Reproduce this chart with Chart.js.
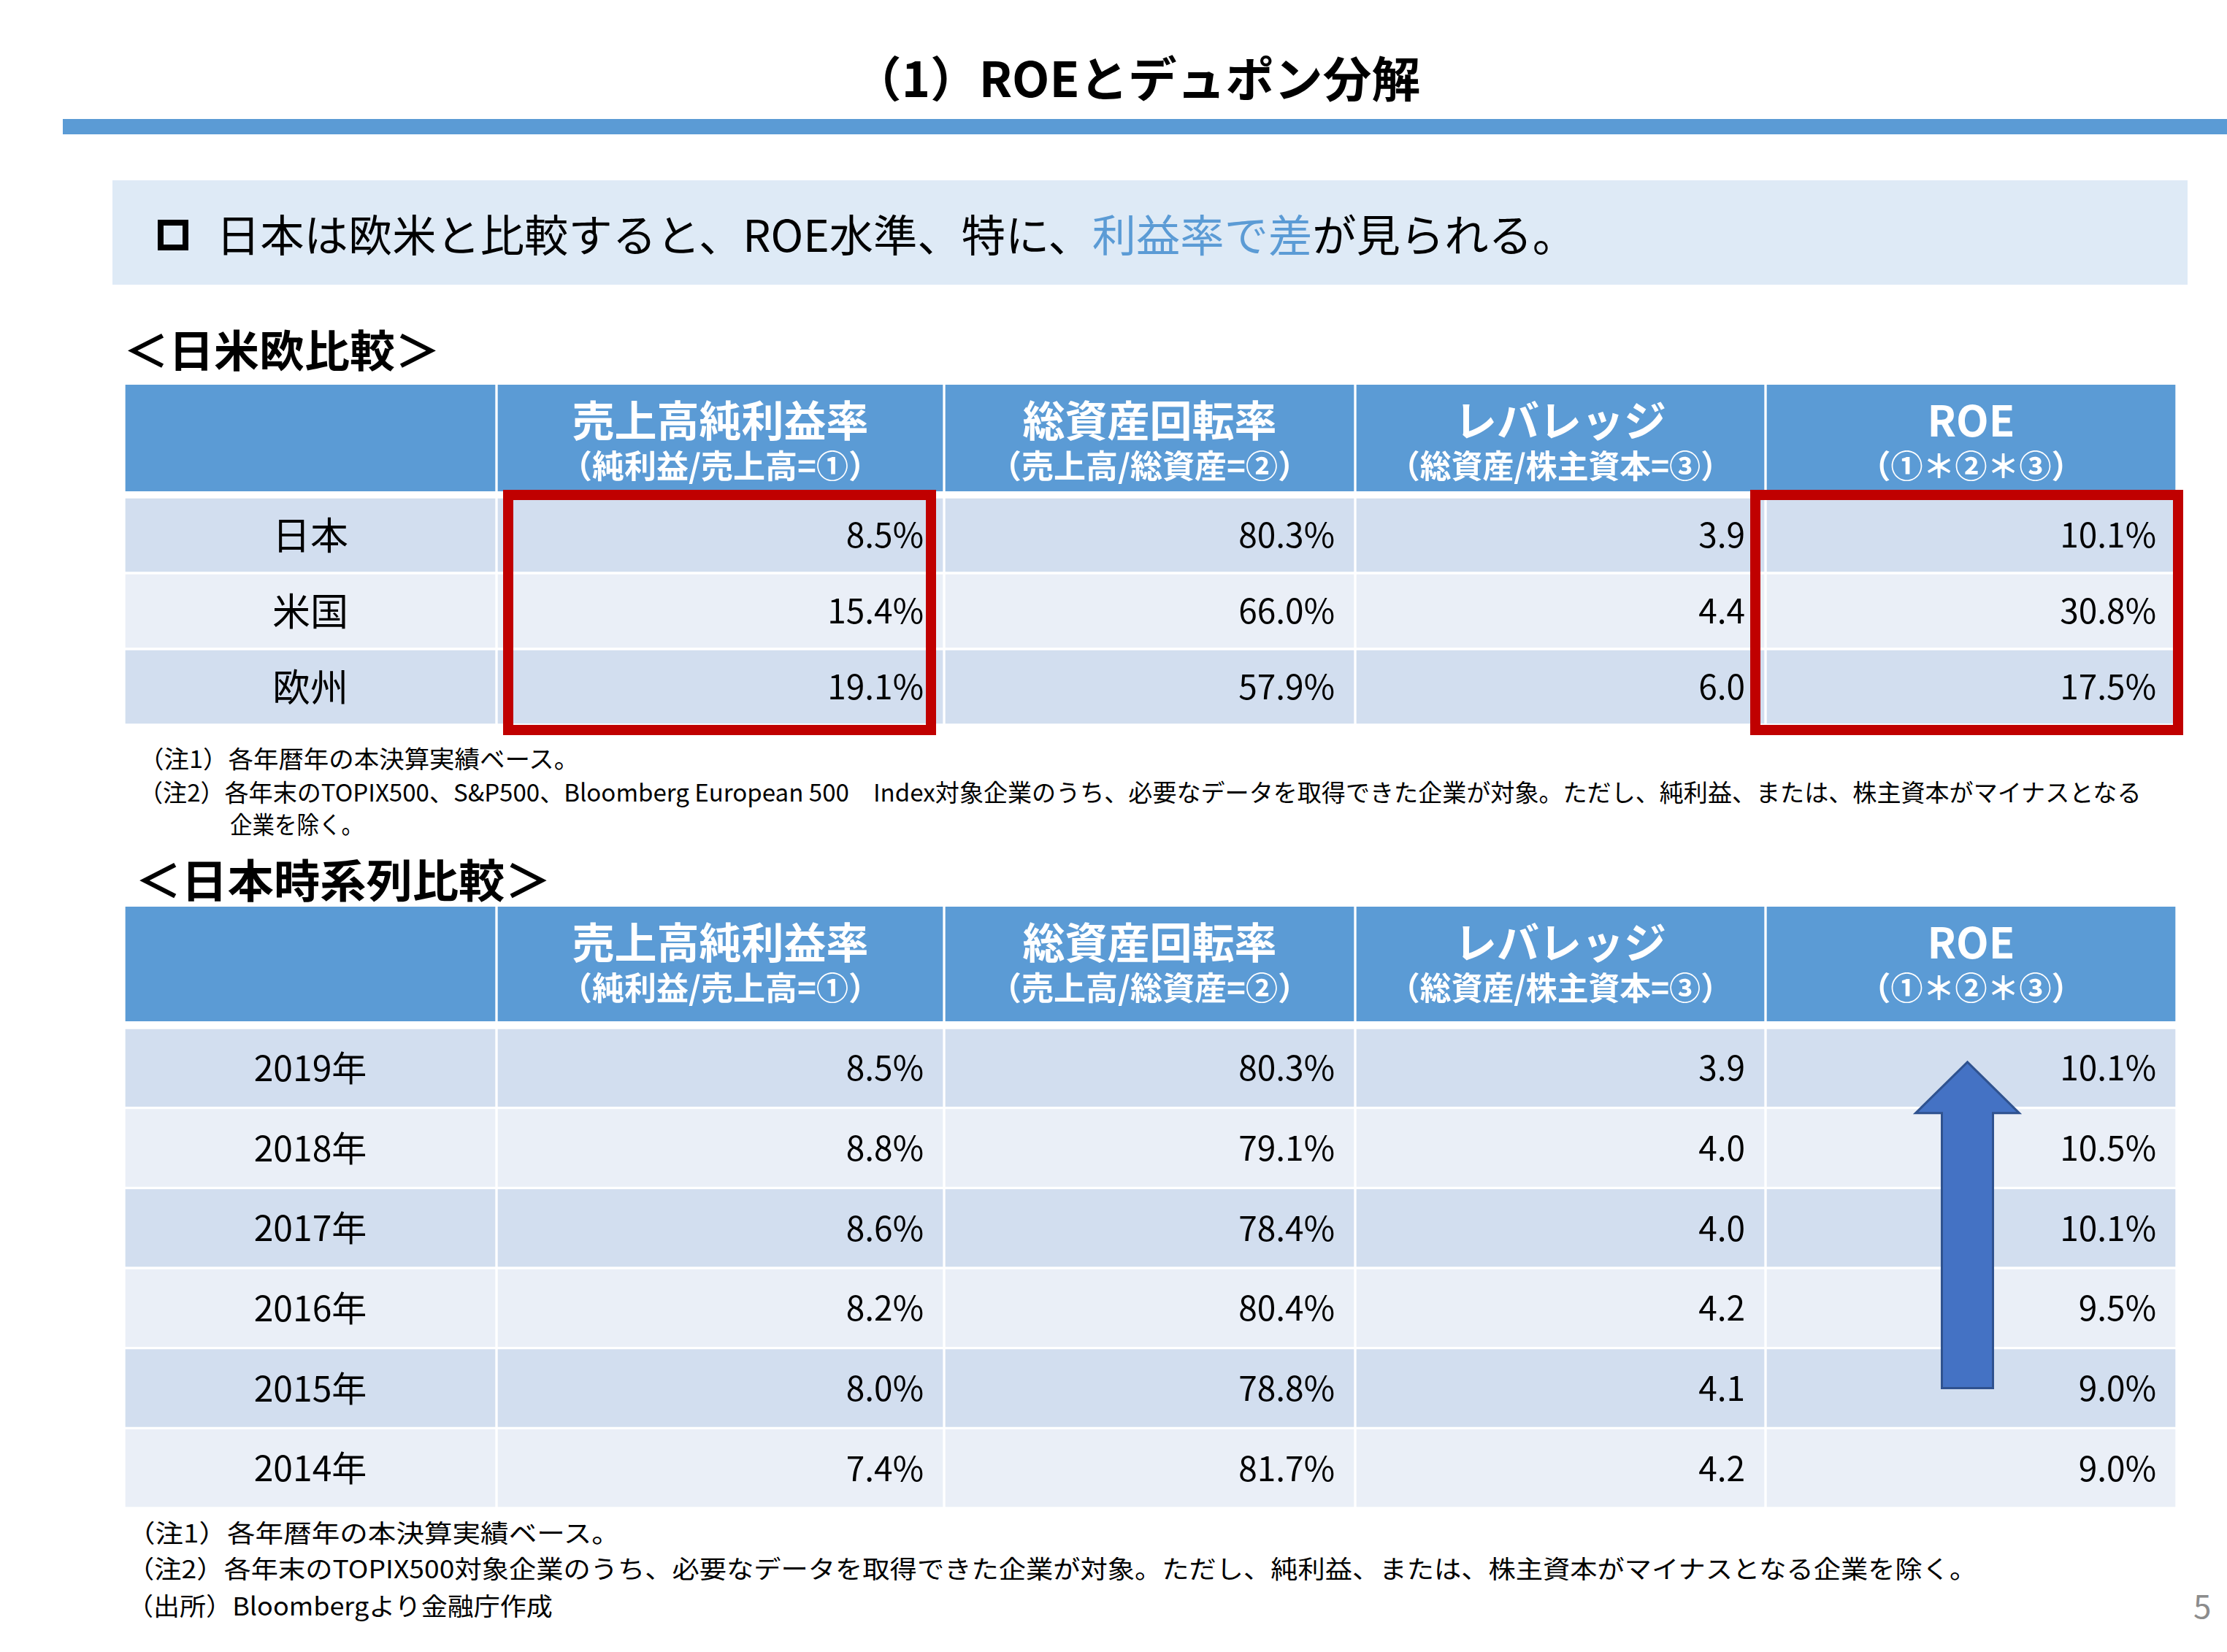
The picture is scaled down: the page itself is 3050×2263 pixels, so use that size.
<!DOCTYPE html>
<html lang="ja">
<head>
<meta charset="utf-8">
<title>（1）ROEとデュポン分解</title>
<script src="https://cdn.jsdelivr.net/npm/chart.js@4.4.1/dist/chart.umd.min.js"></script>
<style>
  body { margin: 0; background: #fff; }
  #page { position: relative; width: 3050px; height: 2263px; overflow: hidden;
          font-family: "Noto Sans CJK JP", sans-serif; color: #000; }
  .txt { position: absolute; white-space: nowrap; line-height: 1; transform-origin: left center; }
  .blk { position: absolute; }
  canvas { position: absolute; }
</style>
</head>
<body>
<div id="page">
  <div class="blk" style="left:86px;top:163px;width:2964px;height:21px;background:#5b9bd5"></div>
  <div class="blk" style="left:154px;top:247px;width:2842px;height:143px;background:#deeaf6"></div>
  <div class="blk" style="left:216px;top:301px;width:42px;height:42px;border:8px solid #000;box-sizing:border-box"></div>
  <canvas id="head1" width="2811" height="146" style="left:170px;top:527px"></canvas>
  <canvas id="body1" width="2845" height="344" style="left:158px;top:667px"></canvas>
  <canvas id="head2" width="2811" height="157" style="left:170px;top:1242px"></canvas>
  <canvas id="body2" width="2811" height="658" style="left:170px;top:1408px"></canvas>
</div>
<script>
// 見出し
const headTitles = ['', '売上高純利益率', '総資産回転率', 'レバレッジ', 'ROE'];
const headFormulas = ['', '（純利益/売上高=①）', '（売上高/総資産=②）', '（総資産/株主資本=③）', '（①＊②＊③）'];

// 日米欧比較
const regions = ['日本', '米国', '欧州'];
const regionMargin = [8.5, 15.4, 19.1];
const regionTurnover = [80.3, 66.0, 57.9];
const regionLeverage = [3.9, 4.4, 6.0];
const regionRoe = [10.1, 30.8, 17.5];

// 日本時系列比較
const years = ['2019年', '2018年', '2017年', '2016年', '2015年', '2014年'];
const jpMargin = [8.5, 8.8, 8.6, 8.2, 8.0, 7.4];
const jpTurnover = [80.3, 79.1, 78.4, 80.4, 78.8, 81.7];
const jpLeverage = [3.9, 4.0, 4.0, 4.2, 4.1, 4.2];
const jpRoe = [10.1, 10.5, 10.1, 9.5, 9.0, 9.0];

// layout
const colWidths = [510, 613, 563, 562, 563];
const colEdges = colWidths.reduce((a, w) => { a.push(a[a.length - 1] + w); return a; }, [0]);
const FONT = '"Noto Sans CJK JP", sans-serif';
const HEAD_BLUE = '#5b9bd5';
const BAND1 = '#d2deef';
const BAND2 = '#eaeff7';

const pct = v => v.toFixed(1) + '%';
const num = v => v.toFixed(1);

function baseOptions(padding) {
  return {
    indexAxis: 'y',
    responsive: false,
    animation: false,
    events: [],
    layout: { padding: padding || 0 },
    scales: {
      x: { type: 'linear', min: 0, max: colEdges[colEdges.length - 1], display: false },
      y: { display: false }
    },
    plugins: { legend: { display: false }, tooltip: { enabled: false } }
  };
}

function headerChart(id) {
  const datasets = colWidths.map((w, c) => ({
    label: headTitles[c] || '区分',
    data: [[colEdges[c], colEdges[c + 1]]],
    backgroundColor: HEAD_BLUE,
    borderColor: '#ffffff',
    borderWidth: { left: 2, right: 2, top: 0, bottom: 0 },
    borderSkipped: false,
    grouped: false,
    barPercentage: 1,
    categoryPercentage: 1
  }));
  const headText = {
    id: 'headText',
    afterDatasetsDraw(chart) {
      const ctx = chart.ctx;
      ctx.save();
      ctx.fillStyle = '#ffffff';
      ctx.textAlign = 'center';
      ctx.textBaseline = 'middle';
      chart.data.datasets.forEach((ds, c) => {
        if (!headTitles[c]) return;
        const p = chart.getDatasetMeta(c).data[0].getProps(['x', 'y', 'base', 'height'], true);
        const cx = (p.x + p.base) / 2;
        const top = p.y - p.height / 2;
        ctx.font = 'bold 58px ' + FONT;
        ctx.fillText(headTitles[c], cx, top + 49, 420);
        ctx.font = 'bold 44px ' + FONT;
        ctx.fillText(headFormulas[c], cx, top + 111, 470);
      });
      ctx.restore();
    }
  };
  return new Chart(document.getElementById(id), {
    type: 'bar',
    data: { labels: ['見出し'], datasets },
    options: baseOptions(0),
    plugins: [headText]
  });
}

function bodyChart(id, rowLabels, cells, labelSize, padding, extra) {
  const datasets = colWidths.map((w, c) => ({
    label: headTitles[c] || '区分',
    data: rowLabels.map(() => [colEdges[c], colEdges[c + 1]]),
    backgroundColor: rowLabels.map((_, r) => (r % 2 ? BAND2 : BAND1)),
    borderColor: '#ffffff',
    borderWidth: 2,
    borderSkipped: false,
    grouped: false,
    barPercentage: 1,
    categoryPercentage: 1
  }));
  const texts = [rowLabels].concat(cells);
  const cellText = {
    id: 'cellText',
    afterDatasetsDraw(chart) {
      const ctx = chart.ctx;
      ctx.save();
      ctx.fillStyle = '#000000';
      ctx.textBaseline = 'middle';
      chart.data.datasets.forEach((ds, c) => {
        chart.getDatasetMeta(c).data.forEach((bar, r) => {
          const p = bar.getProps(['x', 'y', 'base'], true);
          if (c === 0) {
            ctx.font = labelSize + 'px ' + FONT;
            ctx.textAlign = 'center';
            ctx.fillText(texts[c][r], (p.x + p.base) / 2, p.y);
          } else {
            ctx.font = '46px ' + FONT;
            ctx.textAlign = 'right';
            ctx.fillText(texts[c][r], p.x - 28, p.y);
          }
        });
      });
      ctx.restore();
    }
  };
  return new Chart(document.getElementById(id), {
    type: 'bar',
    data: { labels: rowLabels, datasets },
    options: baseOptions(padding),
    plugins: [cellText].concat(extra || [])
  });
}

// 赤枠 (売上高純利益率, ROE)
const redBoxes = {
  id: 'redBoxes',
  afterDraw(chart) {
    const ctx = chart.ctx, xs = chart.scales.x, a = chart.chartArea;
    ctx.save();
    ctx.strokeStyle = '#c00000';
    ctx.lineWidth = 14;
    [[1, 16, -18], [4, -14, 2]].forEach(([c, l, r]) => {
      const x0 = xs.getPixelForValue(colEdges[c]) + l;
      const x1 = xs.getPixelForValue(colEdges[c + 1]) + r;
      ctx.strokeRect(x0, a.top - 3, x1 - x0, a.bottom - a.top + 10);
    });
    ctx.restore();
  }
};

// 上向き矢印 (2015年 → 2019年 ROE)
const upArrow = {
  id: 'upArrow',
  afterDatasetsDraw(chart) {
    const ctx = chart.ctx, xs = chart.scales.x, ys = chart.scales.y;
    const cx = xs.getPixelForValue((colEdges[4] + colEdges[5]) / 2) - 5;
    const yTop = ys.getPixelForValue(0) - 8;
    const yBot = ys.getPixelForValue(4);
    const head = 70, half = 71, shaft = 35;
    ctx.save();
    ctx.beginPath();
    ctx.moveTo(cx, yTop);
    ctx.lineTo(cx + half, yTop + head);
    ctx.lineTo(cx + shaft, yTop + head);
    ctx.lineTo(cx + shaft, yBot);
    ctx.lineTo(cx - shaft, yBot);
    ctx.lineTo(cx - shaft, yTop + head);
    ctx.lineTo(cx - half, yTop + head);
    ctx.closePath();
    ctx.fillStyle = '#4472c4';
    ctx.fill();
    ctx.strokeStyle = '#2f528f';
    ctx.lineWidth = 3;
    ctx.stroke();
    ctx.restore();
  }
};

headerChart('head1');
bodyChart('body1', regions,
  [regionMargin.map(pct), regionTurnover.map(pct), regionLeverage.map(num), regionRoe.map(pct)],
  52, { left: 12, right: 22, top: 14, bottom: 18 }, [redBoxes]);
headerChart('head2');
bodyChart('body2', years,
  [jpMargin.map(pct), jpTurnover.map(pct), jpLeverage.map(num), jpRoe.map(pct)],
  48, 0, [upArrow]);

// page texts (x = left of ink, lead = blank side bearing of a leading full-width bracket)
const pageTexts = [
  { html: '（1）ROEとデュポン分解', x: 1196, cy: 107, size: 66, bold: true, w: 749, lead: 28 },
  { html: '日本は欧米と比較すると、ROE水準、特に、<span style="color:#5b9bd5">利益率で差</span>が見られる。',
    x: 296, cy: 322, size: 60, w: 1863 },
  { html: '＜日米欧比較＞', x: 179, cy: 480, size: 60, bold: true, w: 424, lead: 10 },
  { html: '（注1）各年暦年の本決算実績ベース。', x: 204, cy: 1040, size: 33, w: 589, lead: 14 },
  { html: '（注2）各年末のTOPIX500、S&amp;P500、Bloomberg European 500　Index対象企業のうち、必要なデータを取得できた企業が対象。ただし、純利益、または、株主資本がマイナスとなる',
    x: 204, cy: 1086, size: 33, w: 2729, lead: 14 },
  { html: '企業を除く。', x: 315, cy: 1130, size: 33, w: 183 },
  { html: '＜日本時系列比較＞', x: 195, cy: 1206, size: 62, bold: true, w: 560, lead: 10 },
  { html: '（注1）各年暦年の本決算実績ベース。', x: 188, cy: 2101, size: 34, w: 661, lead: 14 },
  { html: '（注2）各年末のTOPIX500対象企業のうち、必要なデータを取得できた企業が対象。ただし、純利益、または、株主資本がマイナスとなる企業を除く。',
    x: 188, cy: 2150, size: 34, w: 2519, lead: 14 },
  { html: '（出所）Bloombergより金融庁作成', x: 188, cy: 2201, size: 34, w: 569, lead: 14 },
  { html: '5', x: 3004, cy: 2200, size: 44, color: '#8c8c8c' }
];

const page = document.getElementById('page');
pageTexts.forEach(t => {
  const lead = t.lead || 0;
  const el = document.createElement('div');
  el.className = 'txt';
  el.innerHTML = t.html;
  el.style.left = (t.x - lead) + 'px';
  el.style.top = (t.cy - t.size * 0.55) + 'px';
  el.style.fontSize = t.size + 'px';
  el.style.fontWeight = t.bold ? 'bold' : 'normal';
  if (t.color) el.style.color = t.color;
  page.appendChild(el);
  if (t.w) {
    const s = (t.w + lead) / el.getBoundingClientRect().width;
    el.style.transform = 'scaleX(' + s.toFixed(3) + ')';
  }
});
</script>
</body>
</html>
